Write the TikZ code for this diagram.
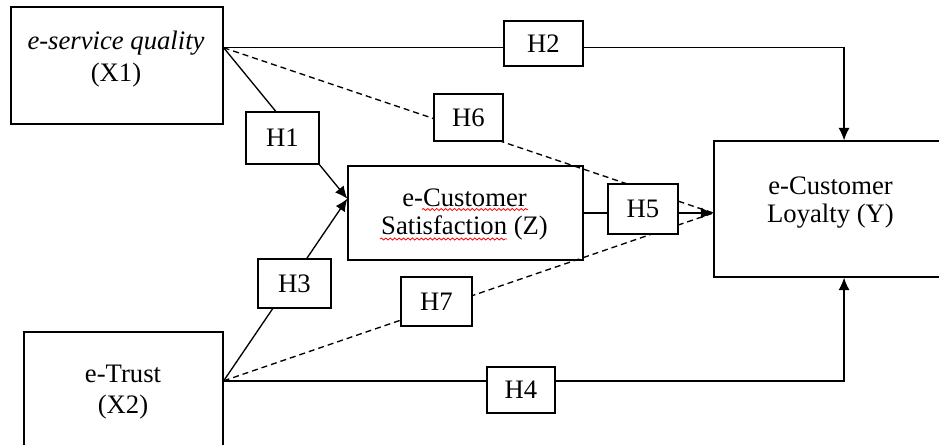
\documentclass[tikz,border=0pt]{standalone}
\usepackage{fontspec}
\setmainfont{Liberation Serif}
\usetikzlibrary{arrows.meta,calc,decorations.pathmorphing}
\begin{document}
\begin{tikzpicture}[x=0.45pt,y=-0.45pt,
  every node/.style={font=\fontsize{12}{14}\selectfont},
  varbox/.style={draw,line width=0.6pt,fill=white,inner sep=0pt},
  vartext/.style={align=center,inner sep=0pt},
  hbox/.style={draw,line width=0.6pt,fill=white,inner sep=0pt},
  link/.style={line width=0.6pt},
  arr/.style={-{Latex[length=5.6pt,width=5pt]}},
  dashlink/.style={line width=0.6pt,dash pattern=on 2.7pt off 1.8pt},
  squig/.style={red,line width=0.35pt,decorate,decoration={snake,amplitude=0.45pt,segment length=2pt}}
]
\useasboundingbox (0,0) rectangle (939,445);

% main variable boxes
\node[varbox,minimum width=95.4pt,minimum height=52.65pt] (X1) at (117,65.5) {};
\node[vartext,font=\fontsize{12}{14.4}\selectfont] (X1t) at (116,59)
  {\textit{e-service quality}\\(X1)};
\node[varbox,minimum width=89.55pt,minimum height=54pt] (X2) at (123.5,392) {};
\node[vartext,font=\fontsize{12}{14}\selectfont] (X2t) at (123,392.5)
  {e-Trust\\(X2)};
\node[varbox,minimum width=105.75pt,minimum height=42.3pt] (Z) at (465.5,213) {};
\node[vartext,font=\fontsize{12}{12.6}\selectfont] (Zt) at (464.5,215)
  {e-Customer\\Satisfaction (Z)};
\node[varbox,minimum width=102.6pt,minimum height=61.2pt] (Y) at (828,209) {};
\node[vartext,font=\fontsize{12}{13}\selectfont] (Yt) at (830.5,202.5)
  {e-Customer\\Loyalty (Y)};

% connection points
\coordinate (x1o) at ($(X1.north east)!0.35!(X1.south east)$);
\coordinate (x2o) at ($(X2.north east)!0.408!(X2.south east)$);
\coordinate (zin) at ($(Z.north west)!0.35!(Z.south west)$);
\coordinate (ytop) at ($(Y.north west)!0.57!(Y.north east)$);
\coordinate (ybot) at ($(Y.south west)!0.57!(Y.south east)$);
\coordinate (yin) at (Z.east -| Y.west);

% connectors
\draw[link,arr] (x1o) -| (ytop);
\draw[link,arr] (x1o) -- (zin);
\draw[link,arr] (x2o) -- (zin);
\draw[link,arr] (x2o) -| (ybot);
\draw[link,arr] (Z.east) -- (yin);
\draw[dashlink] (x1o) -- (yin);
\draw[dashlink] (x2o) -- (yin);

% hypothesis labels
\node[hbox,minimum width=32.85pt,minimum height=23.4pt] (H1) at (282.5,138) {H1};
\node[hbox,minimum width=35.55pt,minimum height=20.25pt] (H2) at (543.5,43.5) {H2};
\node[hbox,minimum width=32.85pt,minimum height=22.05pt] (H3) at (294.5,283.5) {H3};
\node[hbox,minimum width=30.6pt,minimum height=20.7pt] (H4) at (521,390) {H4};
\node[hbox,minimum width=31.5pt,minimum height=22.5pt] (H5) at (643,209) {H5};
\node[hbox,minimum width=31.05pt,minimum height=21.15pt] (H6) at (468.5,117.5) {H6};
\node[hbox,minimum width=31.95pt,minimum height=22.05pt] (H7) at (436.5,301.5) {H7};

% spell-check squiggles
\draw[squig] (422,209.5) -- (528,209.5);
\draw[squig] (380,239) -- (507,239);
\end{tikzpicture}
\end{document}
